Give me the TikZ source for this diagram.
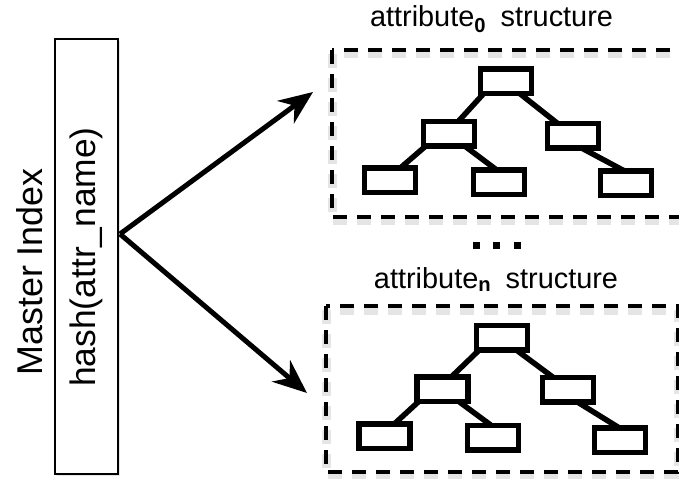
\documentclass[tikz,border=0pt]{standalone}
\usepackage{fontspec}
\setmainfont{Liberation Sans}
\usetikzlibrary{arrows.meta,shadows}
\begin{document}
\begin{tikzpicture}[x=1bp,y=-1bp,
  softshadow/.style={
    general shadow={fill=black,opacity=0.10,shadow xshift=1bp,shadow yshift=-3bp,shadow scale=1.04},
    general shadow={fill=black,opacity=0.10,shadow xshift=2bp,shadow yshift=-5bp,shadow scale=1.02},
    general shadow={fill=black,opacity=0.12,shadow xshift=2bp,shadow yshift=-4bp}},
  tbox/.style={draw=black,fill=white,line width=5.5bp,minimum width=45.5bp,minimum height=19bp,inner sep=0pt,softshadow},
  tedge/.style={line width=5.5bp},
  dpat/.style={dash pattern=on 14bp off 10bp},
  dbox/.style={draw=black,line width=3.6bp,dpat},
  dshadow/.style={draw=black,opacity=0.10,line width=9bp,dpat},
  bigarrow/.style={line width=5bp,-{Stealth[length=34bp,width=28bp,inset=11bp]}},
  dot/.style={fill=black,minimum size=7bp,inner sep=0pt},
  ttl/.style={font=\fontsize{29}{33}\selectfont,anchor=base,inner sep=0pt}]
\useasboundingbox (0,0) rectangle (679,479);

% dashed containers
\coordinate (c1a) at (332,50);  \coordinate (c1b) at (694,217);
\coordinate (c2a) at (326,306); \coordinate (c2b) at (678,472);
\draw[dshadow] ([yshift=-4bp]c1a) rectangle ([yshift=-4bp]c1b);
\draw[dshadow] ([yshift=-4bp]c2a) rectangle ([yshift=-4bp]c2b);
\draw[dbox] (c1a) rectangle (c1b);
\draw[dbox] (c2a) rectangle (c2b);

% master index
\node[draw=black,fill=white,line width=2bp,minimum width=63bp,minimum height=435bp,inner sep=0pt,
  drop shadow={opacity=0.2,shadow xshift=2bp,shadow yshift=-2bp}] (mb) at (86.5,256.5) {};
\node[rotate=90,font=\fontsize{36}{40}\selectfont,inner sep=0pt] (mi) at (30,272) {Master Index};
\node[rotate=90,font=\fontsize{35.5}{40}\selectfont,inner sep=0pt] (hs) at (86,257) {hash(attr\_name)};

\coordinate (src) at (120,234);
\coordinate (tipA) at (313,92);
\coordinate (tipB) at (307,393);
\draw[bigarrow] (src) -- (tipA);
\draw[bigarrow] (src) -- (tipB);

% titles
\node[ttl] (t0) at (491.5,27) {attribute\textsubscript{\textbf{0}}\hspace{0.5em}structure};
\node[ttl] (tn) at (496,288) {attribute\textsubscript{\textbf{n}}\hspace{0.5em}structure};

% dots
\node[dot] (d1) at (476,245.5) {};
\node[dot] (d2) at (496.5,245.5) {};
\node[dot] (d3) at (517,245.5) {};

% top tree
\node[tbox] (ar) at (506,81.5) {};
\node[tbox] (am1) at (449,134) {};
\node[tbox] (am2) at (573,136) {};
\node[tbox] (al1) at (390,180.5) {};
\node[tbox] (al2) at (499,182.5) {};
\node[tbox] (al3) at (626,183.5) {};
\draw[tedge] ([xshift=3bp]ar.south west) -- ([xshift=9bp]am1.north);
\draw[tedge] ([xshift=14bp]ar.south) -- ([xshift=-15bp]am2.north);
\draw[tedge] ([xshift=2bp]am1.south west) -- ([xshift=10bp]al1.north);
\draw[tedge] ([xshift=16bp]am1.south) -- ([xshift=-2bp]al2.north);
\draw[tedge] ([xshift=9bp]am2.south) -- ([xshift=-1bp]al3.north);

% bottom tree
\node[tbox] (br) at (502,337.5) {};
\node[tbox] (bm1) at (442.5,389) {};
\node[tbox] (bm2) at (568,389.5) {};
\node[tbox] (bl1) at (384.5,436) {};
\node[tbox] (bl2) at (493,437.5) {};
\node[tbox] (bl3) at (620,440) {};
\draw[tedge] ([xshift=3bp]br.south west) -- ([xshift=9bp]bm1.north);
\draw[tedge] ([xshift=14bp]br.south) -- ([xshift=-15bp]bm2.north);
\draw[tedge] ([xshift=2bp]bm1.south west) -- ([xshift=10bp]bl1.north);
\draw[tedge] ([xshift=16bp]bm1.south) -- ([xshift=-2bp]bl2.north);
\draw[tedge] ([xshift=9bp]bm2.south) -- ([xshift=-1bp]bl3.north);

% redraw boxes over edges
\foreach \n in {ar,am1,am2,al1,al2,al3,br,bm1,bm2,bl1,bl2,bl3}{
  \draw[line width=5.5bp,fill=white] (\n.south west) rectangle (\n.north east);
}
\end{tikzpicture}
\end{document}
